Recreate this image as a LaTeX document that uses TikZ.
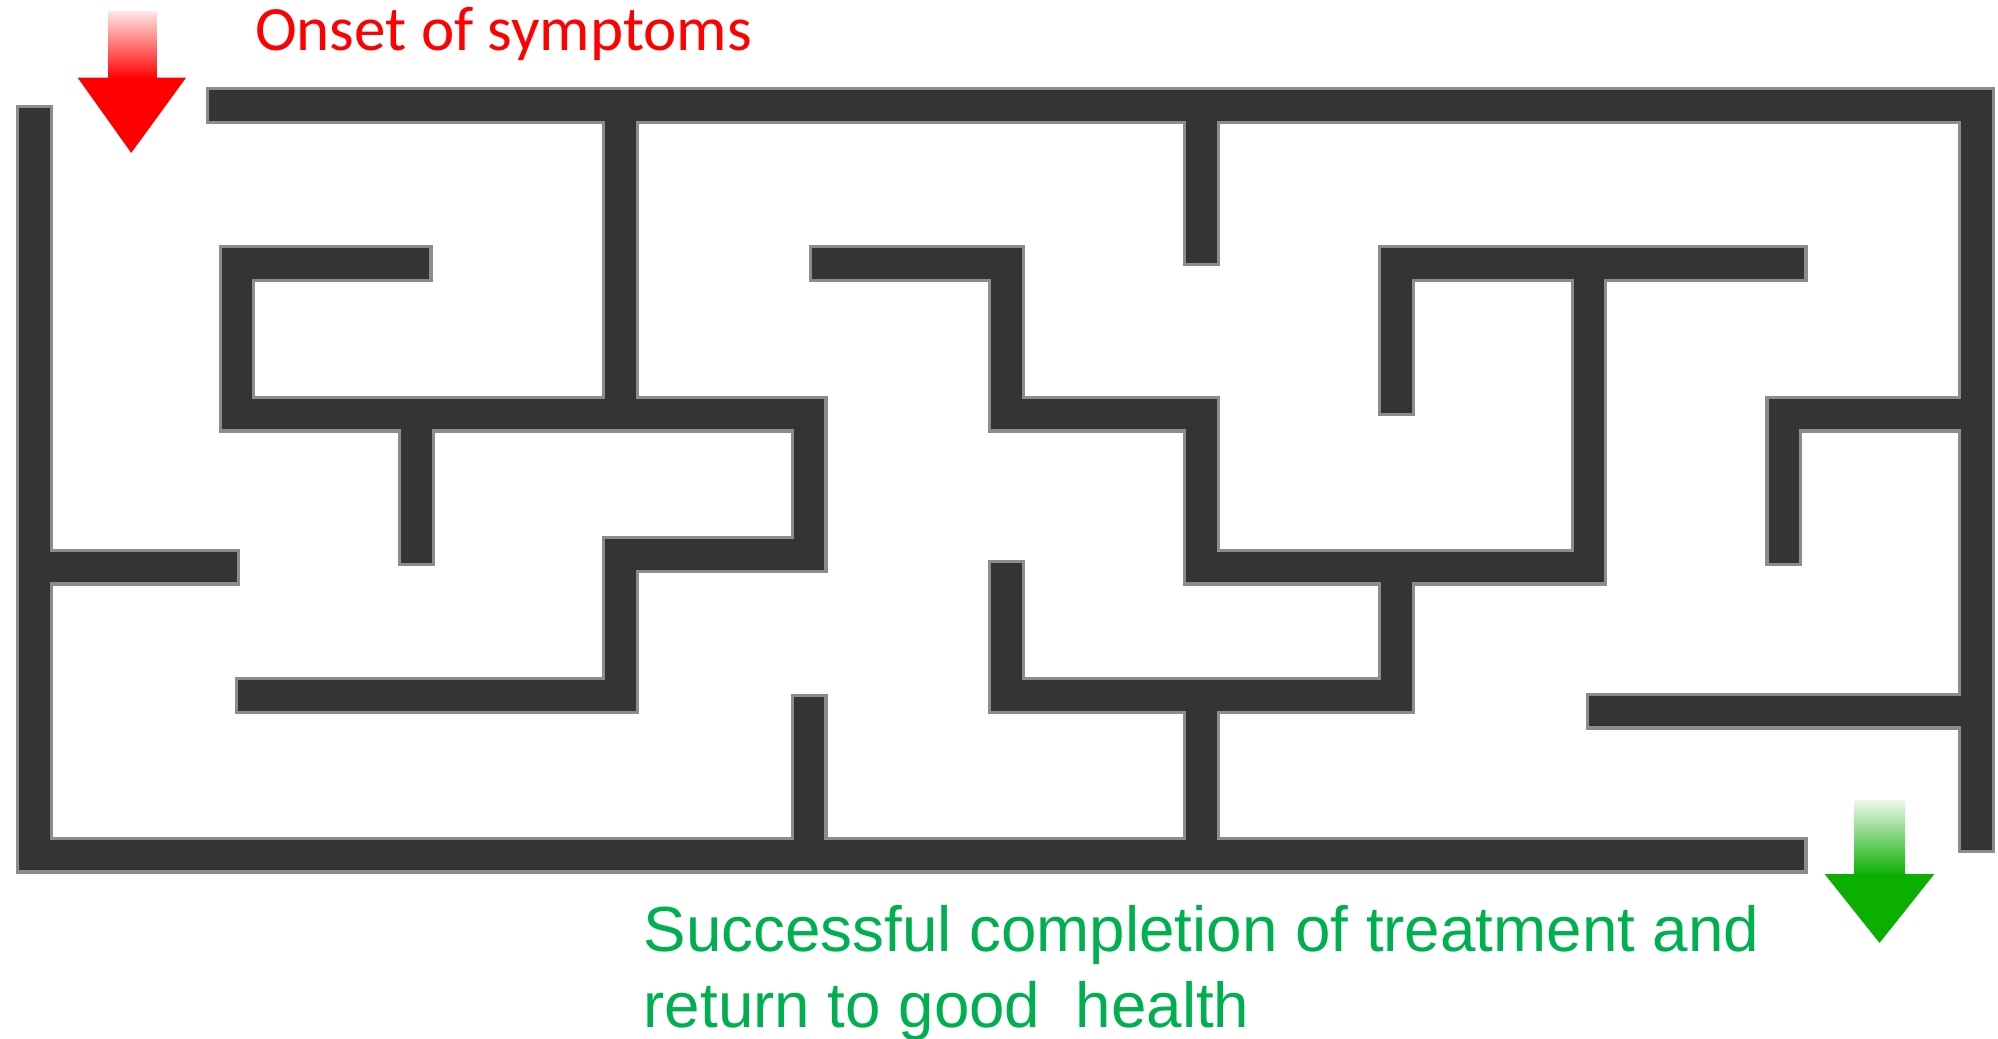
\documentclass[tikz,border=0pt]{standalone}
\usepackage{fontspec}
\newfontfamily\onsetfont{Carlito}
\newfontfamily\healthfont{Liberation Sans}
\definecolor{wallgray}{HTML}{343434}
\definecolor{edgegray}{HTML}{8C8C8C}
\definecolor{onsetred}{HTML}{FF0000}
\definecolor{healthgreen}{HTML}{00B050}
\definecolor{arrowgreen}{HTML}{0AAF00}

\begin{document}
\begin{tikzpicture}[x=1pt,y=-1pt,
  walledge/.style={draw=edgegray, line width=29pt, line cap=rect, line join=miter},
  wallcore/.style={draw=wallgray, line width=24pt, line cap=rect, line join=miter}]
  \useasboundingbox[fill=white] (0,0) rectangle (1568,815);
  % maze walls, edge layer first, then the dark core
  \foreach \lay in {walledge,wallcore}{%
    \draw[\lay] (176,83) -- (1551,83) -- (1551,655);
    \draw[\lay] (27,97) -- (27,671) -- (1404,671);
    \draw[\lay] (325,207) -- (186,207) -- (186,325) -- (635,325) -- (635,435) -- (487,435) -- (487,546) -- (199,546);
    \draw[\lay] (487,83) -- (487,325);
    \draw[\lay] (327,325) -- (327,430);
    \draw[\lay] (27,445) -- (174,445);
    \draw[\lay] (635,559) -- (635,671);
    \draw[\lay] (649,207) -- (790,207) -- (790,325) -- (943,325) -- (943,445) -- (1247,445) -- (1247,207);
    \draw[\lay] (1096,312) -- (1096,207) -- (1404,207);
    \draw[\lay] (943,83) -- (943,194);
    \draw[\lay] (1096,445) -- (1096,546) -- (790,546) -- (790,454);
    \draw[\lay] (943,546) -- (943,671);
    \draw[\lay] (1551,325) -- (1400,325) -- (1400,430);
    \draw[\lay] (1551,558) -- (1259,558);
  }
  % start arrow
  \shade[top color=onsetred!10, bottom color=onsetred] (85,9) rectangle (123,62);
  \fill[onsetred] (61,61) -- (146,61) -- (103,120) -- cycle;
  % end arrow
  \shade[top color=arrowgreen!8, bottom color=arrowgreen] (1455,628) rectangle (1495,687);
  \fill[arrowgreen] (1432,686) -- (1518,686) -- (1475,740) -- cycle;
  % labels
  \node[anchor=base west, inner sep=0pt, text=onsetred,
        font=\onsetfont\fontsize{49.5}{59}\selectfont] (onset) at (200,40) {Onset of symptoms};
  \node[anchor=base west, inner sep=0pt, text=healthgreen,
        font=\healthfont\fontsize{50}{60}\selectfont] (done1) at (505,747) {Successful completion of treatment and};
  \node[anchor=base west, inner sep=0pt, text=healthgreen,
        font=\healthfont\fontsize{50}{60}\selectfont] (done2) at (505,806) {return to good~ health};
\end{tikzpicture}
\end{document}
